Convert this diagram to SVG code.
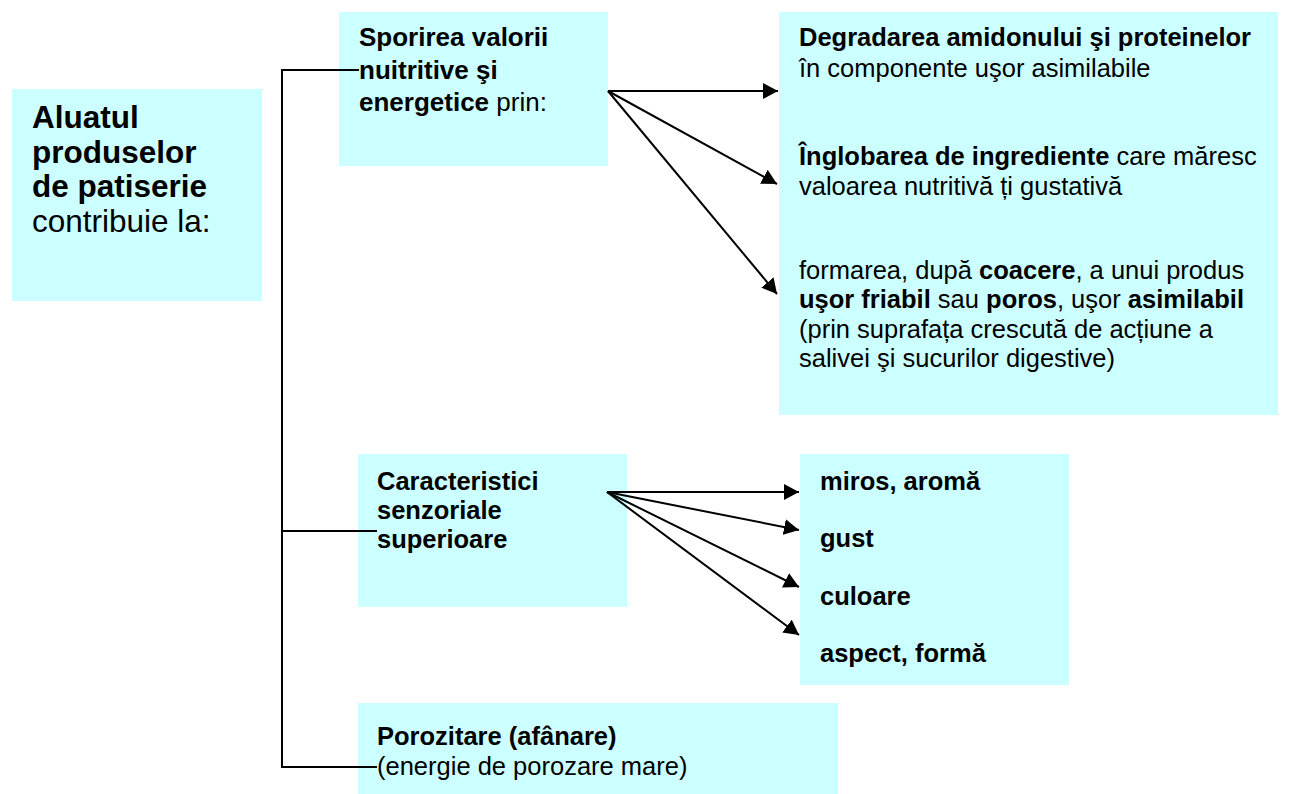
<svg xmlns="http://www.w3.org/2000/svg" width="1303" height="794" viewBox="0 0 1303 794">
  <style>
    .box { fill: #ccffff; stroke: none; }
    text { font-family: "Liberation Sans", Arial, sans-serif; fill: #000; }
    .b { font-weight: bold; }
    .t31 { font-size: 31.5px; }
    .t26 { font-size: 26px; }
    .t25 { font-size: 25.5px; }
    .wire { stroke: #000; stroke-width: 2; fill: none; }
    .arrow { stroke: #000; stroke-width: 2; fill: none; marker-end: url(#head); }
  </style>
  <defs>
    <marker id="head" markerWidth="16" markerHeight="16" refX="15" refY="8" orient="auto" markerUnits="userSpaceOnUse">
      <path d="M0,0 L15,8 L0,16 z" fill="#000"/>
    </marker>
  </defs>

  <rect width="1303" height="794" fill="#fff"/>

  <g id="aluatul">
    <rect class="box" x="12" y="89" width="250" height="212"/>
    <text class="t31">
      <tspan class="b" x="32" y="128">Aluatul</tspan>
      <tspan class="b" x="32" y="163">produselor</tspan>
      <tspan class="b" x="32" y="197">de patiserie</tspan>
      <tspan x="32" y="232">contribuie la:</tspan>
    </text>
  </g>

  <g id="sporirea">
    <rect class="box" x="339" y="12" width="269" height="154"/>
    <text class="t26">
      <tspan class="b" x="359" y="46">Sporirea valorii</tspan>
      <tspan class="b" x="359" y="79">nuitritive şi</tspan>
      <tspan x="359" y="111"><tspan class="b">energetice</tspan> prin:</tspan>
    </text>
  </g>

  <g id="efecte-nutritive">
    <rect class="box" x="779" y="12" width="499" height="403"/>
    <text class="t25">
      <tspan class="b" x="799" y="46">Degradarea amidonului şi proteinelor</tspan>
      <tspan x="799" y="77">în componente uşor asimilabile</tspan>
      <tspan x="799" y="165"><tspan class="b">Înglobarea de ingrediente</tspan> care măresc</tspan>
      <tspan x="799" y="195">valoarea nutritivă ți gustativă</tspan>
      <tspan x="799" y="279">formarea, după <tspan class="b">coacere</tspan>, a unui produs</tspan>
      <tspan x="799" y="308"><tspan class="b">uşor friabil</tspan> sau <tspan class="b">poros</tspan>, uşor <tspan class="b">asimilabil</tspan></tspan>
      <tspan x="799" y="338">(prin suprafața crescută de acțiune a</tspan>
      <tspan x="799" y="367">salivei şi sucurilor digestive)</tspan>
    </text>
  </g>

  <g id="senzoriale">
    <rect class="box" x="358" y="454" width="269" height="153"/>
    <text class="t25 b">
      <tspan x="377" y="490">Caracteristici</tspan>
      <tspan x="377" y="519">senzoriale</tspan>
      <tspan x="377" y="548">superioare</tspan>
    </text>
  </g>

  <g id="lista-senzoriala">
    <rect class="box" x="800" y="454" width="269" height="231"/>
    <text class="t25 b">
      <tspan x="820" y="490">miros, aromă</tspan>
      <tspan x="820" y="547">gust</tspan>
      <tspan x="820" y="605">culoare</tspan>
      <tspan x="820" y="662">aspect, formă</tspan>
    </text>
  </g>

  <g id="porozitare">
    <rect class="box" x="358" y="703" width="480" height="91"/>
    <text class="t25">
      <tspan class="b" x="377" y="745">Porozitare (afânare)</tspan>
      <tspan x="377" y="775">(energie de porozare mare)</tspan>
    </text>
  </g>

  <!-- connectors, drawn over the boxes -->
  <g id="connectors">
    <polyline class="wire" points="359,70 282,70 282,767 377,767"/>
    <line class="wire" x1="282" y1="531" x2="377" y2="531"/>
    <line class="arrow" x1="608" y1="91" x2="778" y2="91"/>
    <line class="arrow" x1="608" y1="91" x2="777" y2="184"/>
    <line class="arrow" x1="608" y1="91" x2="777" y2="294"/>
    <line class="arrow" x1="607" y1="492" x2="799" y2="492"/>
    <line class="arrow" x1="607" y1="492" x2="799" y2="530"/>
    <line class="arrow" x1="607" y1="492" x2="799" y2="587"/>
    <line class="arrow" x1="607" y1="492" x2="799" y2="635"/>
  </g>
</svg>
